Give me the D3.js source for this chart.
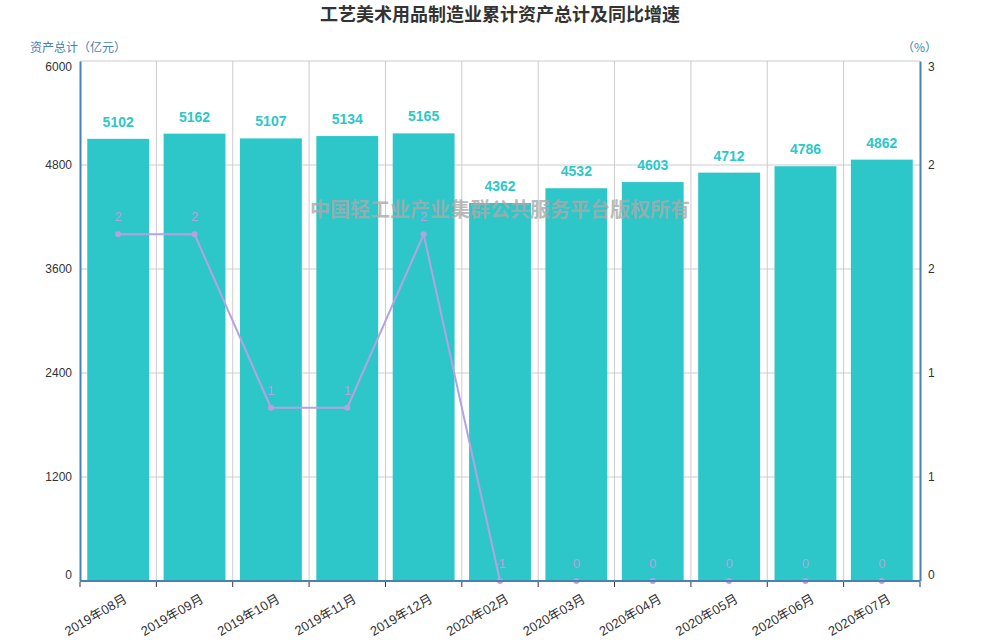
<!DOCTYPE html>
<html>
<head>
<meta charset="utf-8">
<script src="https://cdn.jsdelivr.net/npm/d3@7"></script>
<style>
  body { margin: 0; background: #fff; }
  text { font-family: "Liberation Sans", Arial, "Noto Sans CJK SC", sans-serif; }
</style>
</head>
<body>
<div id="chart"></div>
<script>
var months = ["2019年08月", "2019年09月", "2019年10月", "2019年11月", "2019年12月",
    "2020年02月", "2020年03月", "2020年04月", "2020年05月", "2020年06月", "2020年07月"];
var assets = [5102, 5162, 5107, 5134, 5165, 4362, 4532, 4603, 4712, 4786, 4862];
var growth = [2, 2, 1, 1, 2, -1, 0, 0, 0, 0, 0];
var leftTicks = [0, 1200, 2400, 3600, 4800, 6000];
var rightTicks = [0, 0.6, 1.2, 1.8, 2.4, 3];

var W = 1000, H = 640;
var margin = {top: 61, right: 80, bottom: 59, left: 80},
    width = W - margin.left - margin.right,
    height = H - margin.top - margin.bottom;

var barColor = "#2ec7c9", lineColor = "#b6a2de", axisColor = "#4682b4", gridColor = "#ccc";

var svg = d3.select("#chart").append("svg")
    .attr("width", W).attr("height", H);

// title
svg.append("text").attr("x", W / 2).attr("y", 21)
    .attr("text-anchor", "middle")
    .style("font-family", "'Noto Sans CJK SC', sans-serif")
    .style("font-size", "18px").style("font-weight", "bold").style("fill", "#333")
    .text("工艺美术用品制造业累计资产总计及同比增速");

var g = svg.append("g")
    .attr("transform", "translate(" + margin.left + "," + margin.top + ")");

var x = d3.scaleBand().domain(months).range([0, width]).paddingInner(0.19).paddingOuter(0.095);
var xb = d3.scaleBand().domain(months).range([0, width]);
var y = d3.scaleLinear().domain([0, 6000]).range([height, 0]);
var y2 = d3.scaleLinear().domain([0, 3]).range([height, 0]).clamp(true);

// grid
g.append("g").selectAll("line").data(leftTicks).enter().append("line")
    .attr("x1", 0).attr("x2", width)
    .attr("y1", function(d) { return y(d); }).attr("y2", function(d) { return y(d); })
    .style("stroke", gridColor);
g.append("g").selectAll("line").data(months.slice(1)).enter().append("line")
    .attr("x1", function(d) { return xb(d); }).attr("x2", function(d) { return xb(d); })
    .attr("y1", 0).attr("y2", height)
    .style("stroke", gridColor);

// bars
g.selectAll(".bar").data(assets).enter().append("rect")
    .attr("x", function(d, i) { return x(months[i]); })
    .attr("y", function(d) { return y(d); })
    .attr("width", x.bandwidth())
    .attr("height", function(d) { return height - y(d); })
    .style("fill", barColor);

g.selectAll(".barlabel").data(assets).enter().append("text")
    .attr("x", function(d, i) { return x(months[i]) + x.bandwidth() / 2; })
    .attr("y", function(d) { return y(d) - 12; })
    .attr("text-anchor", "middle")
    .style("font-size", "14px").style("font-weight", "bold").style("fill", barColor)
    .text(function(d) { return d; });

// watermark (over the bars)
g.append("text").attr("x", width / 2).attr("y", 156)
    .attr("text-anchor", "middle")
    .style("font-family", "'Noto Sans CJK SC', sans-serif")
    .style("font-size", "20px").style("font-weight", "bold")
    .style("fill", "#aaa").style("opacity", 0.8)
    .text("中国轻工业产业集群公共服务平台版权所有");

// line
var cx = function(d, i) { return xb(months[i]) + xb.bandwidth() / 2; };
g.append("path").datum(growth)
    .attr("d", d3.line().x(cx).y(function(d) { return y2(d); }))
    .style("fill", "none").style("stroke", lineColor).style("stroke-width", 2);
g.selectAll(".pt").data(growth).enter().append("circle")
    .attr("cx", cx).attr("cy", function(d) { return y2(d); }).attr("r", 3)
    .style("fill", lineColor);
g.selectAll(".ptlabel").data(growth).enter().append("text")
    .attr("x", cx).attr("y", function(d) { return y2(d) - 13; })
    .attr("text-anchor", "middle")
    .style("font-size", "13px").style("fill", lineColor)
    .text(function(d) { return d; });

// axes
var leftAxis = g.append("g")
    .call(d3.axisLeft(y).tickValues(leftTicks).tickSize(0).tickPadding(8)
        .tickFormat(d3.format("d")));
var rightAxis = g.append("g").attr("transform", "translate(" + width + ",0)")
    .call(d3.axisRight(y2).tickValues(rightTicks).tickSize(0).tickPadding(8)
        .tickFormat(function(d) { return Math.round(d); }));
[leftAxis, rightAxis].forEach(function(a) {
    a.select(".domain").style("stroke", axisColor).style("stroke-width", 2);
    a.selectAll("text").style("font-size", "12px").style("fill", "#333")
        .style("font-family", "'Liberation Sans', Arial, sans-serif");
    // edge labels nudged inside the plot like the original
    a.selectAll(".tick text").attr("dy", function(d, i, n) {
        if (i === 0) return "-0.2em";
        if (i === n.length - 1) return "0.75em";
        return "0.32em";
    });
});

var bottom = g.append("g").attr("transform", "translate(0," + height + ")");
bottom.append("line").attr("x1", 0).attr("x2", width)
    .style("stroke", axisColor).style("stroke-width", 2);
bottom.selectAll(".tick").data(months.concat(["end"])).enter().append("line")
    .attr("x1", function(d, i) { return i * xb.step(); })
    .attr("x2", function(d, i) { return i * xb.step(); })
    .attr("y1", 1).attr("y2", 6)
    .style("stroke", "#333");
bottom.selectAll(".xl").data(months).enter().append("text")
    .attr("transform", function(d) {
        return "translate(" + (xb(d) + xb.bandwidth() / 2 + 5) + ",12)rotate(-30)";
    })
    .attr("text-anchor", "end").attr("dy", "0.75em")
    .style("font-size", "13px").style("fill", "#333")
    .text(function(d) { return d; });

// axis names
svg.append("text").attr("x", 30).attr("y", 52)
    .style("font-family", "'Noto Sans CJK SC', sans-serif")
    .style("font-size", "12px").style("fill", axisColor)
    .text("资产总计（亿元）");
svg.append("text").attr("x", 937).attr("y", 52)
    .attr("text-anchor", "end")
    .style("font-family", "'Noto Sans CJK SC', sans-serif")
    .style("font-size", "12px").style("fill", axisColor)
    .text("（%）");
</script>
</body>
</html>
